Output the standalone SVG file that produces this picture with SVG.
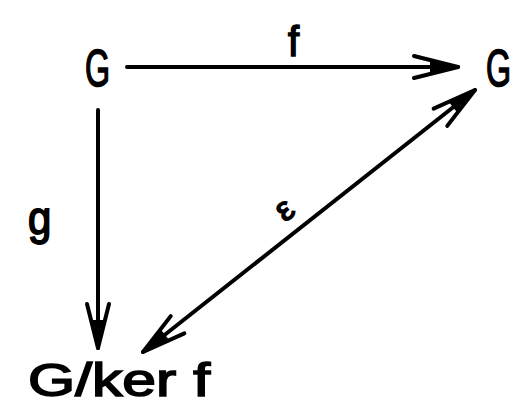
<svg xmlns="http://www.w3.org/2000/svg" width="519" height="407" viewBox="0 0 519 407">
<style>
text{font-family:"Liberation Sans","DejaVu Sans",sans-serif;fill:#000;stroke:#000;stroke-width:1.6}
.n{font-size:52px}
.l{font-size:42px}
.c{fill:none;stroke:#000;stroke-width:4;stroke-linecap:round}
</style>
<defs>
<marker id="ah" markerUnits="userSpaceOnUse" markerWidth="60" markerHeight="40" viewBox="-50 -20 60 40" refX="0" refY="0" orient="auto-start-reverse" overflow="visible">
<path d="M-44,-11 L0,0 L-44,11" fill="none" stroke="#000" stroke-width="4" stroke-linecap="round" stroke-linejoin="round"/>
<path d="M-28,-7 L0,0 L-28,7 Z" fill="#000"/>
</marker>
</defs>
<rect width="519" height="407" fill="#fff"/>
<g id="connectors">
<path class="c" d="M127,67 L458,67" marker-end="url(#ah)"/>
<path class="c" d="M98,110 L98,348" marker-end="url(#ah)" stroke-width="5"/>
<path class="c" d="M143,352 L475,90" marker-start="url(#ah)" marker-end="url(#ah)"/>
<text class="l" transform="translate(288,56) scale(0.95,1)">f</text>
<text class="l" transform="translate(28,234) scale(1,1.1)">g</text>
<text font-size="34" transform="translate(291,218) rotate(-38)" text-anchor="middle">ε</text>
</g>
<g id="nodeG1"><text class="n" transform="translate(85,86) scale(0.62,1)">G</text></g>
<g id="nodeG2"><text class="n" transform="translate(486,86) scale(0.62,1)">G</text></g>
<g id="nodeQuot"><text x="28" y="396" font-size="46" textLength="182" lengthAdjust="spacingAndGlyphs">G/ker f</text></g>
</svg>
